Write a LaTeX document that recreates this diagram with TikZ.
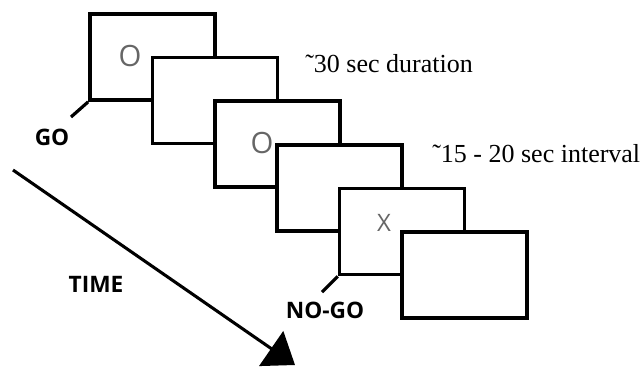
\documentclass[tikz,border=0pt]{standalone}
\usepackage{fontspec}
\setmainfont{Liberation Serif}
\newfontfamily\labelfont{Open Sans}
\usepackage{tikz}
\usetikzlibrary{arrows.meta, positioning, calc}

\begin{document}
\begin{tikzpicture}[
    x=0.75pt, y=-0.75pt,
    scr/.style={rectangle, draw=black, fill=white, line width=2.8pt,
        minimum width=93.75pt, minimum height=64.5pt, inner sep=0pt},
    stim/.style={black!60, font=\labelfont\fontsize{22}{22}\selectfont},
    cue/.style={font=\labelfont\bfseries\fontsize{17}{17}\selectfont},
    note/.style={anchor=base west, inner sep=0pt,
        font=\fontsize{19.5}{19.5}\selectfont},
    tick/.style={line width=2.4pt}
]
\useasboundingbox (0,0) rectangle (641,369);

% screens, each one on top of the one before
\node[scr] (s1) at (152.5,57) {};
\node[scr] (s2) at (214.9,100.6) {};
\node[scr] (s3) at (277.3,144.2) {};
\node[scr] (s4) at (339.7,187.8) {};
\node[scr] (s5) at (402.1,231.4) {};
\node[scr] (s6) at (464.5,275) {};

\node[stim] (o1) at (130,56) {O};
\node[stim] (o2) at (262,143) {O};
\node[stim, font=\labelfont\fontsize{18}{18}\selectfont] (x1) at (384,223) {X};

% go / no-go cues
\coordinate (gotick) at (71,117);
\coordinate (nogotick) at (322,292);
\draw[tick] (s1.south west) -- (gotick);
\draw[tick] (s5.south west) -- (nogotick);
\node[cue] (go) at (52,137) {GO};
\node[cue] (nogo) at (325,310) {NO-GO};

\node[note] (dur) at (305,72) {\symbol{"02DC}30 sec duration};
\node[note] (isi) at (432,162) {\symbol{"02DC}15 - 20 sec interval};

% time arrow
\coordinate (tstart) at (13,170);
\coordinate (tend) at (295,365);
\draw[line width=2.3pt, -{Triangle[length=21.75pt, width=31.5pt]}] (tstart) -- (tend);
\node[cue] (time) at (96,284) {TIME};
\end{tikzpicture}
\end{document}
